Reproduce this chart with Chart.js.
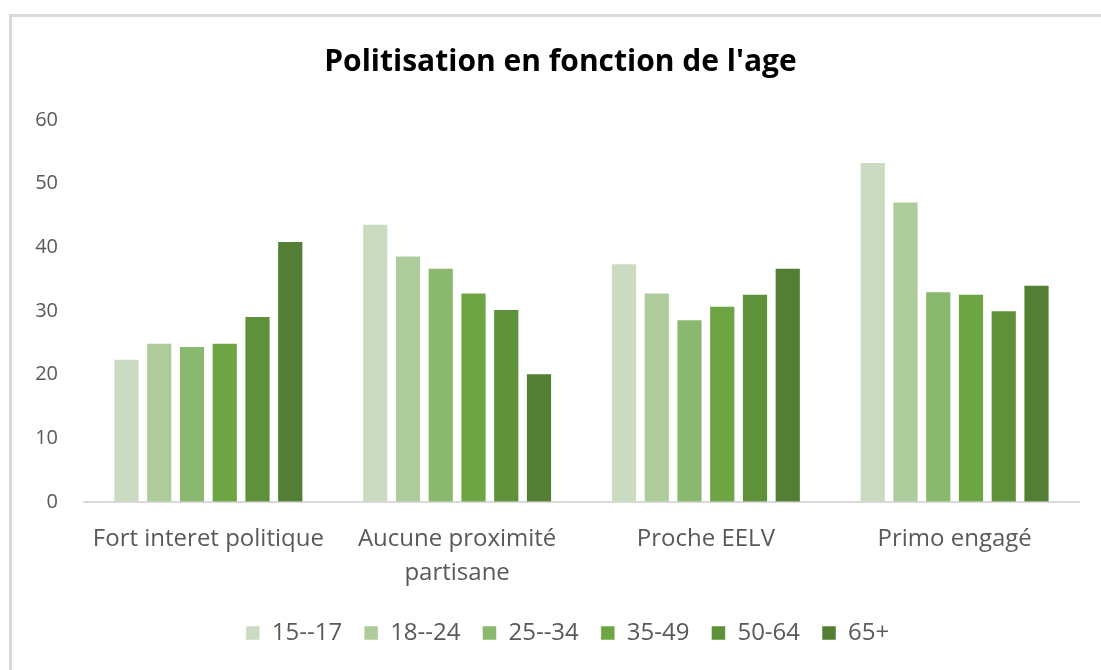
<!DOCTYPE html>
<html>
<head>
<meta charset="utf-8">
<script src="https://cdn.jsdelivr.net/npm/chart.js@4"></script>
<style>
  html, body { margin: 0; padding: 0; background: #fff; }
  #wrap { position: relative; width: 1101px; height: 670px; overflow: hidden; }
  #frame { position: absolute; left: 9px; top: 14px; width: 1200px; height: 800px;
           border-left: 3px solid #d9d9d9; border-top: 3px solid #d9d9d9; }
  canvas { position: absolute; left: 0; top: 0; }
</style>
</head>
<body>
<div id="wrap">
  <div id="frame"></div>
  <canvas id="chart" width="1101" height="670"></canvas>
</div>
<script>
/* ---------- data ---------- */
const categories = ['Fort interet politique', ['Aucune proximité', 'partisane'], 'Proche EELV', 'Primo engagé'];
const ageGroups = ['15--17', '18--24', '25--34', '35-49', '50-64', '65+'];
const age15_17 = [22.5, 43.7, 37.5, 53.4];
const age18_24 = [25.0, 38.7, 32.9, 47.2];
const age25_34 = [24.5, 36.8, 28.7, 33.1];
const age35_49 = [25.0, 32.9, 30.8, 32.7];
const age50_64 = [29.2, 30.3, 32.7, 30.1];
const age65plus = [41.0, 20.2, 36.8, 34.1];
const yTicks = [0, 10, 20, 30, 40, 50, 60];

const seriesValues = [age15_17, age18_24, age25_34, age35_49, age50_64, age65plus];
const colors = ['#cadbc1', '#aecb9c', '#8ab86e', '#6ea544', '#5f913a', '#527f33'];

const font = '"Open Sans", "Noto Sans", sans-serif';
const grey = '#595959';

// Excel centres title and legend on the plot, not on the whole canvas
const shiftBoxes = {
    id: 'shiftBoxes',
    afterLayout(chart) {
        if (chart.legend) { chart.legend.left += 18; chart.legend.right += 18; }
        if (chart.titleBlock) { chart.titleBlock.left += 11; chart.titleBlock.right += 11; }
    }
};

/* ---------- chart ---------- */
const ctx = document.getElementById('chart').getContext('2d');
new Chart(ctx, {
    type: 'bar',
    data: {
        labels: categories,
        datasets: ageGroups.map((name, i) => ({
            label: name,
            data: seriesValues[i],
            backgroundColor: colors[i],
            borderColor: 'rgba(255,255,255,0.5)',
            borderWidth: 1,
            categoryPercentage: 0.79,
            barPercentage: 0.8
        }))
    },
    plugins: [shiftBoxes],
    options: {
        responsive: false,
        animation: false,
        layout: { padding: { left: 20, right: 22, top: 0, bottom: 15 } },
        plugins: {
            title: {
                display: true,
                text: "Politisation en fonction de l'age",
                color: '#000',
                font: { family: font, size: 30, weight: 'bold' },
                padding: { top: 44, bottom: 40 }
            },
            legend: {
                position: 'bottom',
                labels: {
                    color: grey,
                    font: { family: font, size: 24 },
                    boxWidth: 14,
                    boxHeight: 14,
                    padding: 22
                }
            },
            tooltip: { enabled: false }
        },
        scales: {
            x: {
                afterFit: scale => { scale.height -= 11; },
                grid: { display: false, drawTicks: false },
                border: { color: '#d9d9d9', width: 2 },
                ticks: {
                    color: grey,
                    font: { family: font, size: 24, lineHeight: 1.42 },
                    padding: 20,
                    maxRotation: 0
                }
            },
            y: {
                min: 0,
                max: 60,
                afterBuildTicks: scale => { scale.ticks = yTicks.map(v => ({ value: v })); },
                afterFit: scale => { scale.width = 64; },
                grid: { display: false, drawTicks: false },
                border: { display: false },
                ticks: {
                    color: grey,
                    font: { family: font, size: 20 },
                    padding: 26
                }
            }
        }
    }
});
</script>
</body>
</html>
